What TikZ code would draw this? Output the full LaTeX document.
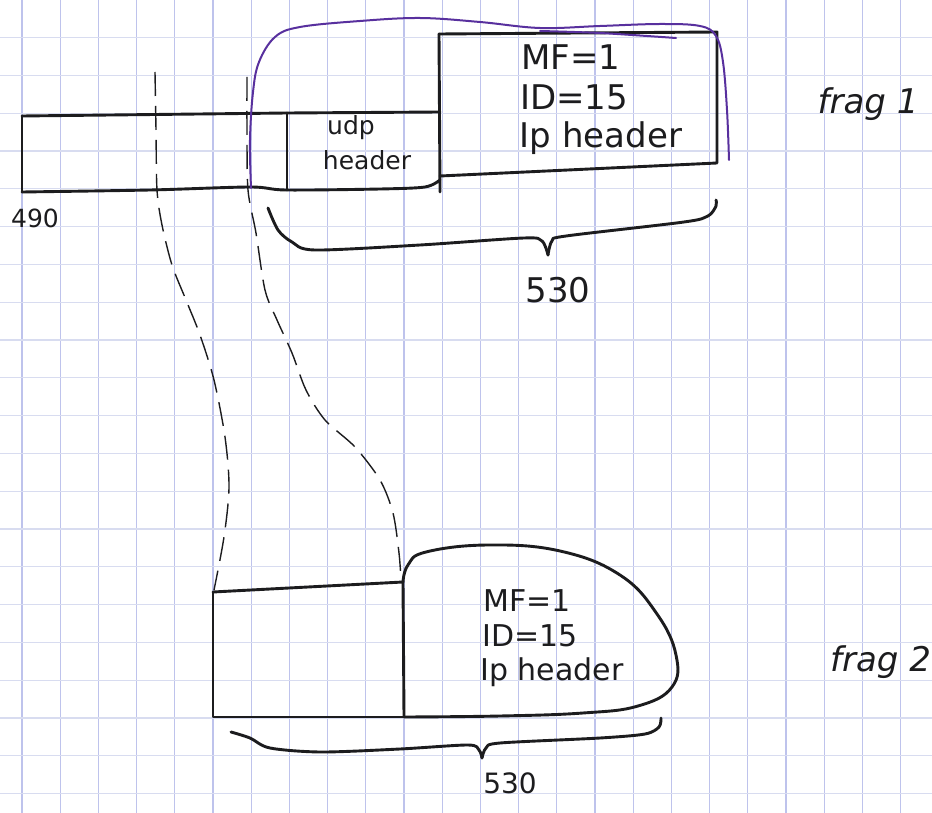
\documentclass[tikz,border=0pt]{standalone}
\usepackage{fontspec}
\setmainfont{DejaVu Sans}
\definecolor{inkc}{RGB}{28,28,30}
\definecolor{purplec}{RGB}{88,48,158}
\definecolor{gridvc}{RGB}{190,195,236}
\definecolor{gridhc}{RGB}{216,220,240}
\begin{document}
\begin{tikzpicture}[x=1pt,y=-1pt,
  ink/.style={draw=inkc, line width=2.9pt, line cap=round, line join=round},
  dashink/.style={draw=inkc, line width=1.4pt, dash pattern=on 24pt off 10pt},
  purp/.style={draw=purplec, line width=2pt, line cap=round, line join=round},
  gridv/.style={draw=gridvc, line width=1.1pt},
  gridh/.style={draw=gridhc, line width=1.1pt},
  lbl/.style={text=inkc, inner sep=0pt},
]
\useasboundingbox (0,0) rectangle (932,813);
\fill[white] (0,0) rectangle (932,813);
% graph paper
\foreach \i in {0,...,23} \draw[gridv] ({22+38.2*\i},0) -- ({22+38.2*\i},813);
\foreach \j in {-1,...,20} \draw[gridh] (0,{37.6+37.8*\j}) -- (932,{37.6+37.8*\j});

% ---------- top fragment ----------
\coordinate (dl) at (22,116);
\coordinate (dlb) at (22,192);
\coordinate (ut) at (287,113);
\coordinate (ub) at (287,190);
\coordinate (it) at (439,34);
\coordinate (ib) at (440,192);
\coordinate (itr) at (717,32);
\coordinate (ibr) at (717,163);
% data part + udp box
\draw[ink] (dl) -- (ut) -- (440,112);
\draw[ink] (dl) -- (dlb);
\draw[ink] plot[smooth] coordinates {(22,192) (150,190) (250,187) (286,190) (380,189) (425,187) (440,180)};
\draw[ink] (ut) -- (ub);
% ip header box
\draw[ink] (it) -- (ib);
\draw[ink] (it) -- (itr) -- (ibr) -- (440,176);
% purple outline
\draw[purp] plot[smooth, tension=0.6] coordinates {(251,188) (250,140) (253,92) (259,62) (275,37) (300,27) (360,21) (420,18) (480,22) (540,28) (600,26) (660,24) (700,26) (716,36) (723,62) (727,110) (729,160)};
\draw[purp] plot[smooth] coordinates {(540,31) (600,33) (676,38)};
% texts
\node[lbl, font=\fontsize{34}{40}\selectfont] (mf1) at (571,57) {MF=1};
\node[lbl, font=\fontsize{34}{40}\selectfont] (id1) at (574,97) {ID=15};
\node[lbl, font=\fontsize{34}{40}\selectfont] (ip1) at (601,138) {Ip header};
\node[lbl, font=\fontsize{25}{30}\selectfont] (udp) at (351,128) {udp};
\node[lbl, font=\fontsize{25}{30}\selectfont] (hdr) at (367,160) {header};
\node[lbl, font=\fontsize{25}{30}\selectfont] (n490) at (35,218) {490};
% brace top
\draw[ink] plot[smooth] coordinates {(268,208) (278,230) (292,242) (315,250) (420,245) (524,238) (542,241) (548,255)};
\draw[ink] plot[smooth] coordinates {(548,255) (552,241) (566,236) (684,222) (708,216) (716,206) (716,200)};
\node[lbl, font=\fontsize{34}{40}\selectfont] (n530a) at (558,290) {530};
\node[lbl, font=\fontsize{34}{40}\selectfont\itshape] (frag1) at (868,104) {frag 1};

% ---------- dashed guides ----------
\draw[dashink] plot[smooth] coordinates {(155,72) (156,130) (157,190) (162,225) (172,265) (186,300) (200,335) (214,380) (225,437) (229,487) (224,537) (214,590)};
\draw[dashink] plot[smooth] coordinates {(247,77) (247,130) (248,190) (256,233) (265,290) (277,320) (292,353) (306,390) (325,420) (355,447) (380,480) (393,513) (399,553) (401,580)};

% ---------- bottom fragment ----------
\coordinate (bl) at (213,592);
\coordinate (blb) at (213,717);
\coordinate (br) at (403,582);
\coordinate (brb) at (404,717);
\draw[ink] (bl) -- (br);
\draw[ink] (bl) -- (blb) -- (brb);
\draw[ink] (br) -- (brb);
\draw[ink] plot[smooth, tension=0.7] coordinates {(403,582) (408,565) (426,552) (488,545) (560,551) (620,575) (657,614) (676,655) (672,687) (638,706) (583,713) (500,716) (404,717)};
\node[lbl, font=\fontsize{30}{36}\selectfont] (mf2) at (527,601) {MF=1};
\node[lbl, font=\fontsize{30}{36}\selectfont] (id2) at (530,636) {ID=15};
\node[lbl, font=\fontsize{30}{36}\selectfont] (ip2) at (552,672) {Ip header};
% brace bottom
\draw[ink] plot[smooth] coordinates {(231,732) (250,738) (270,748) (321,752) (400,749) (468,745) (479,750) (482,758)};
\draw[ink] plot[smooth] coordinates {(482,758) (486,748) (500,743) (600,738) (645,734) (659,727) (661,718)};
\node[lbl, font=\fontsize{28}{34}\selectfont] (n530b) at (510,783) {530};
\node[lbl, anchor=west, font=\fontsize{34}{40}\selectfont\itshape] (frag2) at (830,662) {frag 2};
\end{tikzpicture}
\end{document}
